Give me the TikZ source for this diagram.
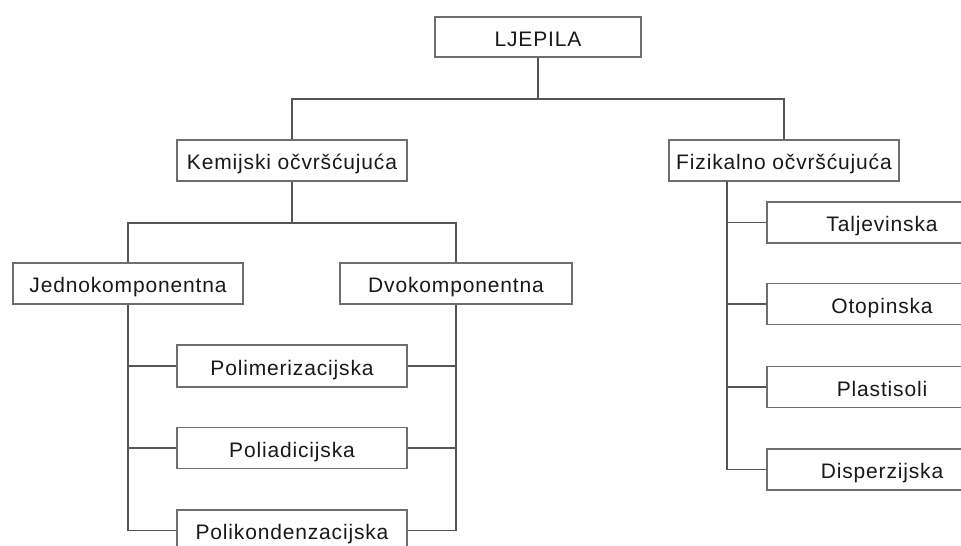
\documentclass[tikz,border=0pt]{standalone}
\usepackage{fontspec}
\setmainfont[LetterSpace=4]{Liberation Sans}
\definecolor{ln}{RGB}{85,85,85}
\definecolor{bx}{RGB}{110,110,110}
\begin{document}
\begin{tikzpicture}[x=1pt,y=-1pt,
  box/.style={draw=bx,line width=1.3pt,fill=white,rectangle,inner sep=0pt,
    minimum width=230pt,minimum height=41pt,text height=18pt,text depth=0pt,
    font=\fontsize{21}{25}\selectfont,text=black!90},
  conn/.style={draw=ln,line width=1.3pt}]
\useasboundingbox (0,0) rectangle (961,546);
\clip (0,0) rectangle (961,546);
\node[box,minimum width=206pt,minimum height=40pt] (root) at (538,37) {LJEPILA};
\node[box] (kem) at (292,160.5) {Kemijski očvršćujuća};
\node[box] (fiz) at (784,160.5) {Fizikalno očvršćujuća};
\node[box] (jed) at (128,283.5) {Jednokomponentna};
\node[box,minimum width=232pt] (dvo) at (456,283.5) {Dvokomponentna};
\node[box,minimum height=42pt] (pol1) at (292,366) {Polimerizacijska};
\node[box] (pol2) at (292,448) {Poliadicijska};
\node[box] (pol3) at (292,530.5) {Polikondenzacijska};
\node[box] (tal) at (882,222.5) {Taljevinska};
\node[box] (oto) at (882,304) {Otopinska};
\node[box] (pla) at (882,387) {Plastisoli};
\node[box] (dis) at (882,469.5) {Disperzijska};
\coordinate (b1) at (538,99);
\coordinate (b2) at (292,223);
\coordinate (f0) at (727,181);
\draw[conn] (root.south) -- (b1);
\draw[conn] (kem.north) |- (b1) -| (fiz.north);
\draw[conn] (kem.south) -- (b2);
\draw[conn] (jed.north) |- (b2) -| (dvo.north);
\draw[conn] (jed.south) |- (pol3.west);
\draw[conn] (dvo.south) |- (pol3.east);
\draw[conn] (pol1.west) -- (pol1.west -| jed.south);
\draw[conn] (pol2.west) -- (pol2.west -| jed.south);
\draw[conn] (pol1.east) -- (pol1.east -| dvo.south);
\draw[conn] (pol2.east) -- (pol2.east -| dvo.south);
\draw[conn] (f0) |- (dis.west);
\draw[conn] (tal.west) -- (tal.west -| f0);
\draw[conn] (oto.west) -- (oto.west -| f0);
\draw[conn] (pla.west) -- (pla.west -| f0);
\end{tikzpicture}
\end{document}
